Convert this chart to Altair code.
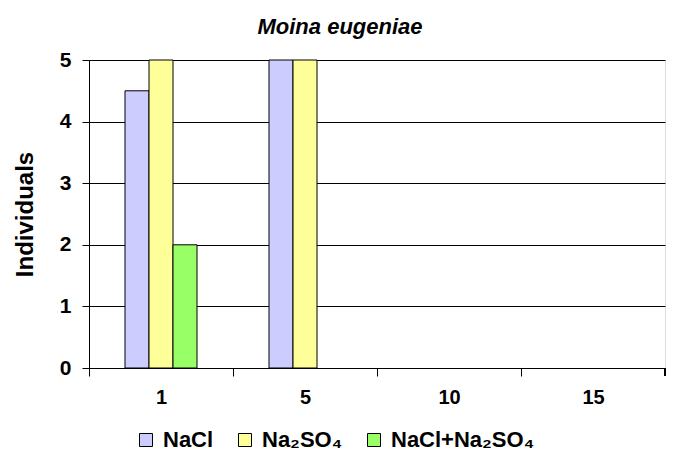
import altair as alt
import pandas as pd

categories = ["1", "5", "10", "15"]
series = ["NaCl", "Na₂SO₄", "NaCl+Na₂SO₄"]
nacl = [4.5, 5, 0, 0]
na2so4 = [5, 5, 0, 0]
mix = [2, 0, 0, 0]
colors = ["#CCCCFF", "#FFFF99", "#99FF66"]

rows = []
for s, vals in zip(series, [nacl, na2so4, mix]):
    for c, v in zip(categories, vals):
        rows.append({"cat": c, "series": s, "value": v})
df = pd.DataFrame(rows)

FONT = "Liberation Sans"

bars = alt.Chart(df).transform_filter("datum.value > 0").mark_bar(
    stroke="black", strokeWidth=1
).encode(
    x=alt.X("cat:N", sort=categories, title=None,
            scale=alt.Scale(domain=categories, paddingInner=0.5, paddingOuter=0.25),
            axis=alt.Axis(labelAngle=0, tickOffset=-72, labelOffset=72, tickSize=8,
                          labelPadding=11, labelFontSize=20, labelFontWeight="bold",
                          labelFont=FONT, labelColor="black", domainColor="black",
                          tickColor="black", grid=False)),
    xOffset=alt.XOffset("series:N", sort=series, scale=alt.Scale(domain=series)),
    y=alt.Y("value:Q", title="Individuals", scale=alt.Scale(domain=[0, 5]),
            axis=alt.Axis(values=[0, 1, 2, 3, 4, 5], tickSize=7, labelPadding=11,
                          labelFontSize=21, labelFontWeight="bold", labelFont=FONT,
                          labelColor="black", domainColor="black", tickColor="black",
                          gridColor="black", gridOpacity=1, titleFont=FONT,
                          titleFontSize=24, titleFontWeight="bold", titleColor="black",
                          titlePadding=22)),
    color=alt.Color("series:N", sort=series,
                    scale=alt.Scale(domain=series, range=colors),
                    legend=alt.Legend(title=None, orient="none", direction="horizontal",
                                      legendX=46, legendY=369, symbolType="square",
                                      symbolSize=169, symbolStrokeColor="black",
                                      symbolStrokeWidth=1, labelFont=FONT,
                                      labelFontSize=22, labelFontWeight="bold",
                                      labelColor="black", columnPadding=20,
                                      labelOffset=6)),
)

end_tick = alt.Chart(df).mark_rule(color="black", strokeWidth=1).encode(
    x=alt.value(576), y=alt.value(308), y2=alt.value(316)
)

chart = alt.layer(bars, end_tick).properties(
    width=576, height=308,
    title=alt.TitleParams("Moina eugeniae", font=FONT, fontSize=22,
                          fontWeight="bold", fontStyle="italic", color="black",
                          offset=10, dx=-37),
    autosize=alt.AutoSizeParams(type="none"),
    padding={"left": 81, "top": 52, "right": 8, "bottom": 90},
).configure_view(stroke="black", strokeWidth=1).configure(background="white")

chart.save("out.html", embed_options={"renderer": "svg", "actions": False})
